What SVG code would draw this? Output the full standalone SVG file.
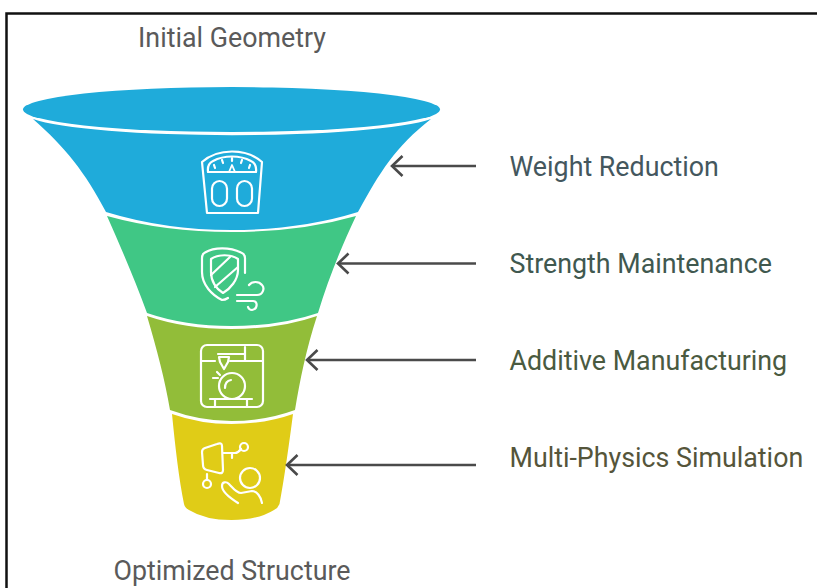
<svg xmlns="http://www.w3.org/2000/svg" width="817" height="588" viewBox="0 0 817 588">
<defs>
<marker id="arrow" markerUnits="userSpaceOnUse" markerWidth="16" markerHeight="24" refX="2" refY="12" orient="auto"><path d="M12.500 2 L2 12 L12.500 22" fill="none" stroke="#4a4a4a" stroke-width="2.600"/></marker>
</defs>
<style>
text{font-family:Roboto,"Liberation Sans",sans-serif;font-size:26.800px}
.t{fill:#5a5a5a;text-anchor:middle}
.i{fill:none;stroke:#fff;stroke-width:2.200;stroke-linecap:round;stroke-linejoin:round}
.c{fill:none;stroke:#4a4a4a;stroke-width:2.400;marker-start:url(#arrow)}
</style>
<rect width="817" height="588" fill="#fff"/>
<path d="M6.500 588V13.500H817" fill="none" stroke="#111" stroke-width="2.500"/>
<text id="top-label" class="t" x="232" y="46.500">Initial Geometry</text>
<text id="bottom-label" class="t" x="232" y="579.500">Optimized Structure</text>
<g id="stage-blue">
<ellipse cx="231.500" cy="109.500" rx="208.500" ry="22.500" fill="#1fabda"/>
<path d="M33 119 A208.500 23 0 0 0 431 119 C395 147 380 172 358 212 Q300 230 231.500 230 Q165 230 106 212 C85 172 65 147 33 119Z" fill="#1fabda"/>
<g class="i">
<path d="M202 162 C218 148 246 148 262 162 L258 213 H207Z"/>
<path d="M208 172 Q207 164 213 161 C224 155 240 155 251 161 Q257 164 256 172Z"/>
<path d="M214 165 L215 168 M222 160 L223 163 M232 158 V161 M242 160 L241 163 M250 165 L249 168"/>
<path d="M229 172 L232 165 L235 172" stroke-width="1.800"/>
<rect x="212" y="181" width="15" height="25" rx="7.500"/>
<rect x="237" y="181" width="15" height="25" rx="7.500"/>
</g>
</g>
<g id="stage-green">
<path d="M107 216 Q165 232 231.500 232 Q300 232 356 216 C340 250 328 280 318 313 Q280 326 231.500 326 Q185 326 147 313 C135 280 122 250 107 216Z" fill="#40c785"/>
<g class="i">
<path d="M245 273 V258 Q245 254 241 252.500 C230 247 214 247 205 252.500 Q202 254 202 258 V272 C202 285 212 295 222 300 Q225 300 228 298"/>
<path d="M211 259 C218 254 231 254 238 259 V270 C238 280 230 289 223 293 C216 289 211 281 211 272Z"/>
<path d="M211 275 L230 257 M215 287 L238 267"/>
<path d="M237 295 H257 C263 295 265 288 262 285 C259 281 252 281 249 285"/>
<path d="M237 301 H253 C258 301 258 309 252 310 Q249 310 248 307"/>
</g>
</g>
<g id="stage-olive">
<path d="M147 316 Q185 329 231.500 329 Q280 329 317 316 C306 350 300 380 295 410 Q265 421 231.500 421 Q200 421 170 410 C165 380 157 350 147 316Z" fill="#92bd39"/>
<g class="i">
<rect x="201" y="345" width="62" height="62" rx="6"/>
<path d="M201 361 H215 M230 361 H245 V347 M245 361 H263 M218 354 H245"/>
<path d="M219 357 H229 L228 362 L224 369 L220 362Z"/>
<path d="M217 372 L220 375 M213 378 H218"/>
<circle cx="232" cy="386" r="13"/>
<path d="M225 388 Q225 381 231 380"/>
<path d="M210 399 H252 M215 399 V407 M247 399 V407"/>
</g>
</g>
<g id="stage-yellow">
<path d="M172 414 Q200 424 231.500 424 Q265 424 293 414 C289 445 284 480 279.500 504 Q278 508 274 510 Q258 520 231.500 520 Q205 520 189 510 Q185 508 184 504 C179 480 175 445 172 414Z" fill="#e0cc17"/>
<g class="i">
<path d="M202 452 Q202 449 205 448 L217 444 Q222 442 222 446 L223 470 Q223 474 219 473 L207 470 Q203 469 203 465Z"/>
<path d="M223 453 H235 Q238 453 241 449 M232 453 V458"/>
<circle cx="244" cy="447" r="4"/>
<circle cx="207" cy="484" r="4"/>
<path d="M207 474 V480"/>
<circle cx="250" cy="478" r="10"/>
<path d="M238 503 C230 498 222 491 222 486 C222 482 226 481 229 484 C233 488 236 493 241 493 L252 491 C257 491 261 497 262 503"/>
</g>
</g>
<g id="connectors">
<path class="c" d="M392 166 H476"/>
<path class="c" d="M338 263.500 H476"/>
<path class="c" d="M307 360 H476"/>
<path class="c" d="M287 465 H476"/>
</g>
<g id="label-weight"><text x="509.500" y="175.500" fill="#44575e">Weight Reduction</text></g>
<g id="label-strength"><text x="509.500" y="272.500" fill="#40584f">Strength Maintenance</text></g>
<g id="label-additive"><text x="509.500" y="369.500" fill="#4a5a40">Additive Manufacturing</text></g>
<g id="label-multi"><text x="509.500" y="466.500" fill="#55553a">Multi-Physics Simulation</text></g>
</svg>
